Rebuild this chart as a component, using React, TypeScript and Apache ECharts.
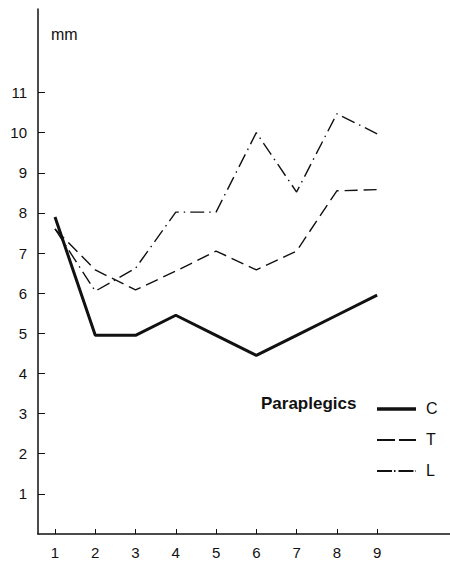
import React, { useEffect, useRef } from "react";
import * as echarts from "echarts";

const xValues = [1, 2, 3, 4, 5, 6, 7, 8, 9];
const yTicks = [1, 2, 3, 4, 5, 6, 7, 8, 9, 10, 11];
const seriesNames = ["C", "T", "L"];
const seriesC = [7.9, 4.95, 4.95, 5.45, 4.95, 4.45, 4.95, 5.45, 5.95];
const seriesT = [7.6, 6.58, 6.08, 6.55, 7.05, 6.58, 7.05, 8.55, 8.58];
const seriesL = [7.6, 6.05, 6.62, 8.02, 8.02, 10.0, 8.52, 10.47, 9.97];
const legendTitle = "Paraplegics";
const unitLabel = "mm";

const FONT = "'Liberation Sans', Arial, sans-serif";
const INK = "#111";

const lineStyles = [
  { width: 3, type: "solid" as any },
  { width: 1.4, type: [13, 6] as any },
  { width: 1.4, type: [14, 5, 1.5, 5] as any },
];
const legendDash = [null, [18, 4], [15, 2, 1.5, 3]];

function pairs(vals: number[]) {
  return vals.map((v, i) => [xValues[i], v]);
}

export default function App() {
  const ref = useRef<HTMLDivElement>(null);
  useEffect(() => {
    if (!ref.current) return;
    const chart = echarts.init(ref.current, null, { renderer: "svg" });
    const data = [seriesC, seriesT, seriesL];
    const legendGraphics: any[] = [];
    seriesNames.forEach((name, i) => {
      const y = 409 + i * 31;
      legendGraphics.push({
        type: "line",
        shape: { x1: 377, y1: y, x2: 416, y2: y },
        style: {
          stroke: INK,
          lineWidth: lineStyles[i].width + (i === 0 ? 0.5 : 0.4),
          lineDash: legendDash[i] || undefined,
        },
      });
      legendGraphics.push({
        type: "text",
        left: 426,
        top: y - 9,
        style: { text: name, fontSize: 16, fill: INK, fontFamily: FONT },
      });
    });
    chart.setOption({
      animation: false,
      backgroundColor: "#fff",
      textStyle: { fontFamily: FONT, color: INK },
      grid: { left: 38, top: 9, right: 0, bottom: 34, containLabel: false, outerBoundsMode: "none" },
      xAxis: {
        type: "value",
        min: 0.578,
        max: 10.81,
        splitLine: { show: false },
        axisLine: { show: true, lineStyle: { color: INK, width: 1.5 } },
        axisTick: { show: true, inside: true, length: 5, customValues: xValues, lineStyle: { color: INK } },
        axisLabel: { show: true, customValues: xValues, margin: 11, fontSize: 15, color: INK, fontFamily: FONT },
      },
      yAxis: {
        type: "value",
        min: 0,
        max: 13.08,
        splitLine: { show: false },
        axisLine: { show: true, onZero: false, lineStyle: { color: INK, width: 1.5 } },
        axisTick: { show: true, inside: true, length: 7, customValues: yTicks, lineStyle: { color: INK } },
        axisLabel: { show: true, customValues: yTicks, margin: 11, fontSize: 15, color: INK, fontFamily: FONT },
      },
      graphic: [
        {
          type: "text",
          left: 51,
          top: 26,
          style: { text: unitLabel, fontSize: 16, fill: INK, fontFamily: FONT },
        },
        {
          type: "text",
          left: 261,
          top: 395,
          style: { text: legendTitle, fontSize: 17, fontWeight: "bold", fill: INK, fontFamily: FONT },
        },
        ...legendGraphics,
      ],
      series: seriesNames.map((name, i) => ({
        name,
        type: "line",
        data: pairs(data[i]),
        showSymbol: false,
        symbol: "none",
        color: INK,
        lineStyle: { color: INK, width: lineStyles[i].width, type: lineStyles[i].type },
      })),
    });
    return () => chart.dispose();
  }, []);
  return (
    <div
      ref={ref}
      style={{ position: "fixed", left: 0, top: 0, width: 450, height: 568, background: "#fff" }}
    />
  );
}
